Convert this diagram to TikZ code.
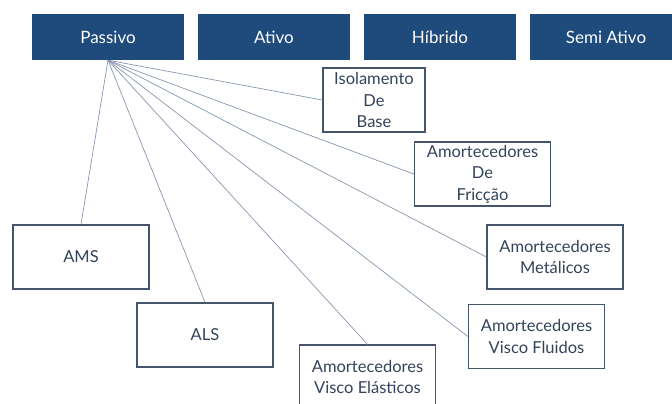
\documentclass[tikz,border=0pt]{standalone}
\usepackage{fontspec}
\setmainfont{Lato}
\usetikzlibrary{positioning}
\definecolor{topblue}{HTML}{1F4A7C}
\definecolor{boxline}{HTML}{44546A}
\definecolor{boxtext}{HTML}{33435A}
\definecolor{linkline}{HTML}{8797B0}
\tikzset{
  group/.style={rectangle, fill=topblue, text=white, minimum width=152pt,
    minimum height=46pt, inner sep=0pt, font=\fontsize{17}{20}\selectfont},
  kind/.style={rectangle, draw=boxline, line width=1.3pt, fill=white, text=boxtext,
    minimum width=136pt, minimum height=64pt, inner sep=0pt, align=center,
    font=\fontsize{16.5}{21.5}\selectfont},
  link/.style={draw=linkline, line width=0.7pt}
}

\begin{document}
\begin{tikzpicture}[x=1pt, y=-1pt, node distance = 166pt]
    \useasboundingbox (0,0) rectangle (672,404);

    \node[group] (P) at (108,37) {Passivo};
    \node[group] (A) [right of = P] {Ativo};
    \node[group] (H) [right of = A] {Híbrido};
    \node[group] (SA) [right of = H] {Semi Ativo};

    \node[kind, minimum width=102pt] (ISO) at (374,100) {Isolamento\\De\\Base};
    \node[kind] (FRI) at (482.5,174) {Amortecedores\\De\\Fricção};
    \node[kind] (MET) at (555,257) {Amortecedores\\Metálicos};
    \node[kind] (VF) at (536.5,336.5) {Amortecedores\\Visco Fluidos};
    \node[kind] (VE) at (367.5,377) {Amortecedores\\Visco Elásticos};
    \node[kind] (ALS) at (205,335) {ALS};
    \node[kind] (AMS) at (81,257) {AMS};

    \path[link] (P.south) edge (ISO.west)
          (P.south) edge (FRI.west)
          (P.south) edge (MET.west)
          (P.south) edge (VF.west)
          (P.south) edge (VE.north)
          (P.south) edge (ALS.north)
          (P.south) edge (AMS.north);
  \end{tikzpicture}
\end{document}
